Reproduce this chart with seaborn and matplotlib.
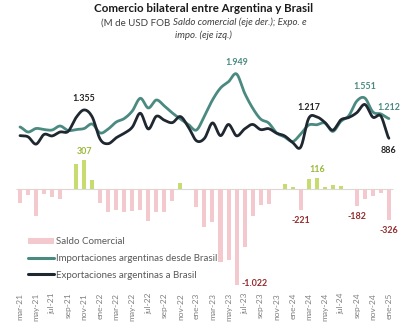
import numpy as np
import pandas as pd
import matplotlib
matplotlib.use("Agg")
import matplotlib.pyplot as plt
from matplotlib.patches import Patch
from matplotlib.lines import Line2D
import seaborn as sns

# Monthly series, M USD FOB
meses = [
    "mar-21", "abr-21", "may-21", "jun-21", "jul-21", "ago-21", "sep-21", "oct-21", "nov-21", "dic-21",
    "ene-22", "feb-22", "mar-22", "abr-22", "may-22", "jun-22", "jul-22", "ago-22", "sep-22", "oct-22", "nov-22", "dic-22",
    "ene-23", "feb-23", "mar-23", "abr-23", "may-23", "jun-23", "jul-23", "ago-23", "sep-23", "oct-23", "nov-23", "dic-23",
    "ene-24", "feb-24", "mar-24", "abr-24", "may-24", "jun-24", "jul-24", "ago-24", "sep-24", "oct-24", "nov-24", "dic-24",
    "ene-25",
]
importaciones = [
    1073, 990, 1048, 1031, 1023, 1089, 1015, 1031, 1048, 1122,
    974, 1040, 1155, 1213, 1337, 1547, 1387, 1519, 1420, 1304, 1205, 1114,
    1023, 1255, 1519, 1717, 1821, 1949, 1635, 1387, 1205, 1139, 974, 907,
    833, 957, 1105, 1110, 1139, 1000, 1164, 1260, 1502, 1551, 1321, 1288,
    1212,
]
exportaciones = [
    930, 910, 790, 950, 925, 990, 1000, 1230, 1355, 1240,
    870, 797, 895, 970, 1070, 1300, 1040, 1250, 1185, 1145, 1245, 1070,
    845, 885, 1140, 930, 1115, 927, 1040, 1115, 1030, 1045, 970, 925,
    815, 740, 1217, 1240, 1150, 1020, 1190, 1230, 1310, 1445, 1235, 1253,
    886,
]
saldo = [
    -150, -60, -280, -45, -80, -108, -5, 270, 307, 100,
    -142, -238, -220, -238, -230, -225, -337, -237, -237, -120, 64, 8,
    -191, -397, -346, -773, -747, -1022, -613, -280, -168, -155, -8, 55,
    25, -221, 112, 116, 21, 45, 33, 3, -182, -106, -71, -36,
    -326,
]
etiq_impo = [27, 43, 46]
etiq_expo = [8, 36, 46]
etiq_saldo = [8, 27, 35, 37, 42, 46]

COL_IMPO = "#4b8a81"
COL_EXPO = "#1f2830"
COL_POS = "#c7dc6e"
COL_NEG = "#f3c9cd"
COL_LAB_POS = "#9cb83c"
COL_LAB_NEG = "#952d2d"

sns.set_theme(style="white")
plt.rcParams["font.family"] = ["Lato", "DejaVu Sans"]


def miles(v):
    return f"{v:,.0f}".replace(",", ".")


def suavizar(vals, n=16):
    """Catmull-Rom curve through the monthly points (smoothed line look)."""
    p = np.asarray(vals, float)
    ext = np.concatenate([[p[0]], p, [p[-1]]])
    xs, ys = [], []
    t = np.linspace(0, 1, n, endpoint=False)
    for k in range(len(p) - 1):
        p0, p1, p2, p3 = ext[k:k + 4]
        y = 0.5 * (2 * p1 + (-p0 + p2) * t + (2 * p0 - 5 * p1 + 4 * p2 - p3) * t ** 2
                   + (-p0 + 3 * p1 - 3 * p2 + p3) * t ** 3)
        xs.append(k + t)
        ys.append(y)
    xs.append([len(p) - 1])
    ys.append([p[-1]])
    return np.concatenate(xs), np.concatenate(ys)


W, H = 420, 329
fig = plt.figure(figsize=(W / 100, H / 100), dpi=100)
fig.patch.set_facecolor("white")

ax_bar = fig.add_axes([7.97 / W, 1 - 290 / H, 388.97 / W, 230 / H])
ax_line = ax_bar.twinx()
for a in (ax_bar, ax_line):
    a.set_facecolor("none")
    for s in a.spines.values():
        s.set_visible(False)

pos = np.arange(len(meses))
df = pd.DataFrame({"pos": pos, "saldo": saldo,
                   "signo": np.where(np.array(saldo) >= 0, "pos", "neg")})

ax_bar.hlines(0, -0.5, len(meses) - 0.5, color="#d9d9d9", lw=0.8, zorder=0)
sns.barplot(data=df, x="pos", y="saldo", hue="signo",
            palette={"pos": COL_POS, "neg": COL_NEG}, native_scale=True,
            width=0.5, dodge=False, legend=False, saturation=1,
            errorbar=None, linewidth=0, ax=ax_bar)

for serie, color in ((importaciones, COL_IMPO), (exportaciones, COL_EXPO)):
    xs, ys = suavizar(serie)
    sns.lineplot(x=xs, y=ys, color=color, lw=2.0, sort=False,
                 estimator=None, ax=ax_line)

ax_bar.set_xlim(-1.5, 47)
ax_bar.set_ylim(-1071.3, 1375.5)
ax_line.set_ylim(-1621.5, 2180)
ax_bar.set_yticks([])
ax_line.set_yticks([])
ax_bar.set_ylabel("")
ax_line.set_ylabel("")
ax_bar.set_xlabel("")
ax_bar.set_xticks(pos[::2])
ax_bar.set_xticklabels(meses[::2], rotation=90, fontsize=6.0, color="#808080")
ax_bar.tick_params(axis="x", length=0, pad=2)

lab_kw = dict(textcoords="offset pixels", ha="center", va="center",
              fontsize=6.4, fontweight="bold")
for i in etiq_impo:
    ax_line.annotate(miles(importaciones[i]), (i, importaciones[i]),
                     xytext=(0, 11.5), color=COL_IMPO, **lab_kw)
for i in etiq_expo:
    dy = -12.4 if i == len(meses) - 1 else 11
    ax_line.annotate(miles(exportaciones[i]), (i, exportaciones[i]),
                     xytext=(0, dy), color="#262626", **lab_kw)
for i in etiq_saldo:
    v = saldo[i]
    if v >= 0:
        off, col = (0, 9), COL_LAB_POS
    elif v < -900:
        off, col = (18, 2), COL_LAB_NEG
    else:
        off, col = (0, -10.5), COL_LAB_NEG
    ax_bar.annotate(miles(v), (i, v), xytext=off, color=col, **lab_kw)

# Title and subtitle
cx = 203.5 / W
fig.text(cx, 1 - 9 / H, "Comercio bilateral entre Argentina y Brasil",
         ha="center", va="center", fontsize=8.3, fontweight="bold", color="#1a1a1a")
sub_kw = dict(fontsize=7.0, color="#404040")
t1 = fig.text(0, 1 - 22.7 / H, "(M de USD FOB ", ha="left", va="center", **sub_kw)
t2 = fig.text(0, 1 - 22.7 / H, "Saldo comercial (eje der.); Expo. e",
              ha="left", va="center", style="italic", **sub_kw)
r = fig.canvas.get_renderer()
w1 = t1.get_window_extent(r).width
w2 = t2.get_window_extent(r).width
x0 = cx * W - (w1 + w2) / 2
t1.set_x(x0 / W)
t2.set_x((x0 + w1) / W)
fig.text(cx, 1 - 35 / H, "impo. (eje izq.)", ha="center", va="center",
         style="italic", **sub_kw)

handles = [Patch(facecolor=COL_NEG, edgecolor="none"),
           Line2D([], [], color=COL_IMPO, lw=2.2),
           Line2D([], [], color=COL_EXPO, lw=2.2)]
labels = ["Saldo Comercial", "Importaciones argentinas desde Brasil",
          "Exportaciones argentinas a Brasil"]
fig.legend(handles, labels, loc="upper left", bbox_to_anchor=(28 / W, 1 - 237.5 / H),
           frameon=False, fontsize=7.0, labelcolor="#595959", handlelength=2.7,
           handleheight=0.6, handletextpad=0.15, labelspacing=0.78,
           borderpad=0, borderaxespad=0)

fig.savefig("out.png", dpi=100, facecolor="white")
